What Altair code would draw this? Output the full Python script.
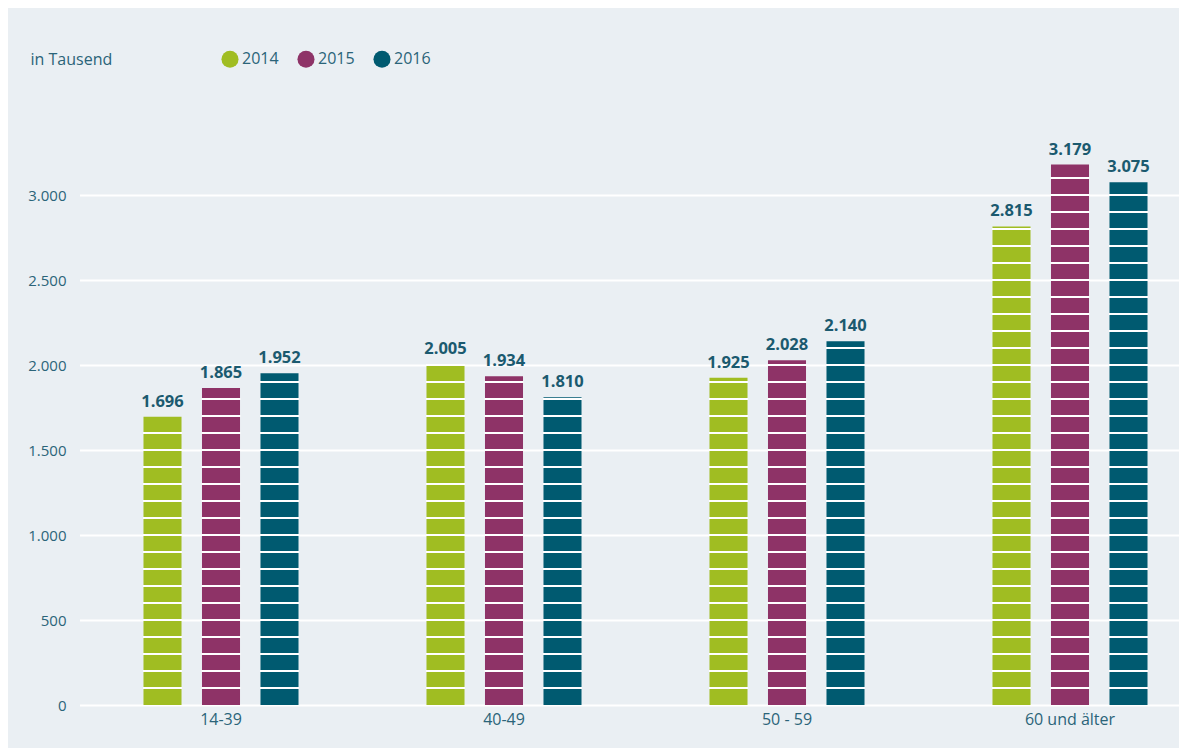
import altair as alt
import pandas as pd

groups = ["14-39", "40-49", "50 - 59", "60 und älter"]
years = ["2014", "2015", "2016"]
v2014 = [1696, 2005, 1925, 2815]
v2015 = [1865, 1934, 2028, 3179]
v2016 = [1952, 1810, 2140, 3075]
colors = ["#a0bd22", "#8e3367", "#005a70"]
y_ticks = [0, 500, 1000, 1500, 2000, 2500, 3000]
stripe_step = 100

rows = []
for yr, vals in zip(years, [v2014, v2015, v2016]):
    for g, v in zip(groups, vals):
        rows.append(dict(group=g, year=yr, value=v, label=f"{v:,}".replace(",", ".")))
df = pd.DataFrame(rows)
stripes = pd.DataFrame([
    dict(group=r["group"], year=r["year"], s=k)
    for r in rows for k in range(stripe_step, r["value"], stripe_step)
])

txt_color = "#1b5a6f"
axis_color = "#2b6479"

x = alt.X("group:N", sort=groups,
          scale=alt.Scale(range=[-2.5, 1129.5], paddingInner=0, paddingOuter=0),
          axis=alt.Axis(title=None, labelAngle=0, ticks=False, domain=False,
                        labelPadding=6, labelFontSize=16, labelColor=axis_color, grid=False))
xo = alt.XOffset("year:N", sort=years,
                 scale=alt.Scale(range=[53.75, 229.25], paddingInner=0.35, paddingOuter=0.175))
yscale = alt.Scale(domain=[0, 3400], nice=False)

bars = alt.Chart(df).mark_bar().encode(
    x=x, xOffset=xo,
    y=alt.Y("value:Q", scale=yscale,
            axis=alt.Axis(values=y_ticks, title="in Tausend", titleAngle=0, titleAlign="left",
                          titleBaseline="middle", titleX=-52, titleY=-68,
                          titleFontWeight="normal", titleFontSize=16, titleColor=axis_color,
                          labelExpr="replace(format(datum.value, ','), ',', '.')",
                          labelFontSize=15, labelColor=axis_color, labelPadding=16,
                          ticks=False, domain=False, gridColor="white", gridWidth=2, gridOpacity=1)),
    color=alt.Color("year:N", sort=years, scale=alt.Scale(domain=years, range=colors),
                    legend=alt.Legend(orient="none", legendX=139, legendY=-77, direction="horizontal",
                                      title=None, symbolType="circle", symbolSize=290,
                                      symbolStrokeWidth=0, labelFontSize=16, labelColor=axis_color,
                                      columnPadding=18, padding=0, labelOffset=3)),
)

stripe_layer = alt.Chart(stripes).mark_tick(color="white", thickness=2, size=39, opacity=1).encode(
    x=x, xOffset=xo, y=alt.Y("s:Q", scale=yscale),
)

labels = alt.Chart(df).mark_text(dy=-7, baseline="bottom", fontWeight="bold",
                                 fontSize=16.5, color=txt_color).encode(
    x=x, xOffset=xo, y=alt.Y("value:Q", scale=yscale), text="label:N",
)

chart = alt.layer(bars, stripe_layer, labels).properties(
    width=1097, height=578,
    padding={"left": 74, "top": 119, "right": 0, "bottom": 43},
    autosize="none", background="#eaeff3",
).configure(font="Open Sans").configure_view(stroke=None, strokeWidth=0)

chart.save("out.html", embed_options={"renderer": "svg", "actions": False})
